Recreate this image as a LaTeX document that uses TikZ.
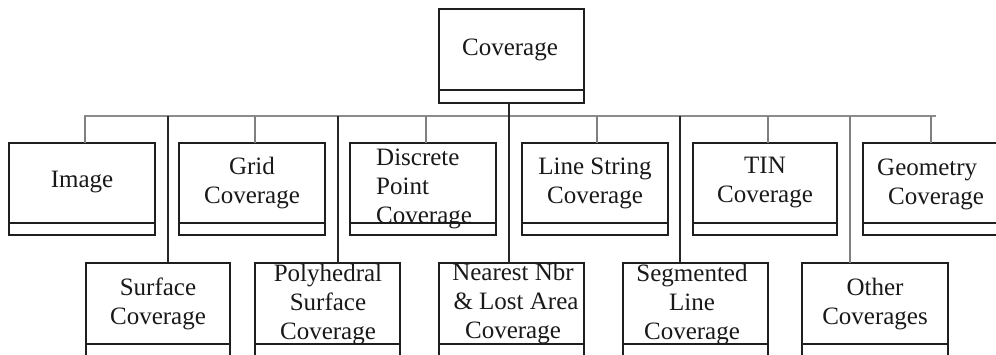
\documentclass[tikz,border=0pt]{standalone}
\usepackage{fontspec}
\setmainfont{Liberation Serif}
\begin{document}
\begin{tikzpicture}[x=1pt,y=-1pt,
  box/.style={draw=black!88,line width=1.2pt,minimum width=146pt,inner sep=0pt,outer sep=0pt,anchor=north west},
  topbox/.style={box,minimum height=92pt},
  botbox/.style={box,minimum height=93pt},
  divider/.style={draw=black!88,line width=1.2pt},
  lbl/.style={font=\fontsize{25}{29}\selectfont,align=center,inner sep=0pt,text=black!90},
  bus/.style={draw=black!45,line width=1.2pt},
  stub/.style={draw=black!50,line width=1.2pt},
  link/.style={draw=black!85,line width=1.2pt},
  graylink/.style={draw=black!50,line width=1.2pt}]
\useasboundingbox (0,0) rectangle (996,354);
\clip (0,0) rectangle (996,354);

% boxes
\node[box,minimum width=145pt,minimum height=94pt] (cov) at (439,9) {};
\node[topbox] (img) at (9,143) {};
\node[topbox] (grid) at (179,143) {};
\node[topbox] (disc) at (350,143) {};
\node[topbox] (line) at (522,143) {};
\node[topbox,minimum width=144pt] (tin) at (693,143) {};
\node[topbox] (geo) at (863,143) {};
\node[botbox,minimum width=144pt] (surf) at (86,263) {};
\node[botbox,minimum width=145pt] (poly) at (255,263) {};
\node[botbox,minimum width=145pt] (near) at (439,263) {};
\node[botbox,minimum width=145pt] (seg) at (623,263) {};
\node[botbox] (oth) at (802,263) {};

% dividers
\draw[divider] ([yshift=13pt]cov.south west) -- ([yshift=13pt]cov.south east);
\foreach \b in {img,grid,disc,line,tin,geo,surf,poly,near,seg,oth}
  \draw[divider] ([yshift=12pt]\b.south west) -- ([yshift=12pt]\b.south east);

% labels
\node[lbl] (tcov) at (510,50) {Coverage};
\node[lbl] (timg) at (82,182) {Image};
\node[lbl] (tgrid) at (252,183) {Grid\\Coverage};
\node[lbl,anchor=west,align=left] (tdisc) at (376,189) {Discrete\\Point\\Coverage};
\node[lbl] (tline) at (595,183) {Line String\\Coverage};
\node[lbl] (ttin) at (765,183) {TIN\\Coverage};
\node[lbl,anchor=west,align=left] (tgeo) at (877,184) {Geometry\\\hspace*{11pt}Coverage};
\node[lbl] (tsurf) at (158,304) {Surface\\Coverage};
\node[lbl] (tpoly) at (328,305) {Polyhedral\\Surface\\Coverage};
\node[lbl] (tnear) at (513,304) {Nearest Nbr\\\hspace*{6pt}\& Lost Area\\Coverage};
\node[lbl] (tseg) at (692,305) {Segmented\\Line\\Coverage};
\node[lbl] (toth) at (875,304) {Other\\Coverages};

% bus
\coordinate (busL) at (84,116);
\coordinate (busR) at (936,116);
\draw[bus] (busL) -- (busR);

% stubs to top row
\draw[stub] ([xshift=3pt]img.north) -- ([xshift=3pt]img.north |- busL);
\draw[stub] ([xshift=3pt]grid.north) -- ([xshift=3pt]grid.north |- busL);
\draw[stub] ([xshift=3pt]disc.north) -- ([xshift=3pt]disc.north |- busL);
\draw[stub] ([xshift=2pt]line.north) -- ([xshift=2pt]line.north |- busL);
\draw[stub] ([xshift=3pt]tin.north) -- ([xshift=3pt]tin.north |- busL);
\draw[stub] ([xshift=-5pt]geo.north) -- ([xshift=-5pt]geo.north |- busL);

% links to bottom row
\coordinate (b1) at (168,116);
\coordinate (b2) at (338,116);
\coordinate (b4) at (680,116);
\coordinate (b5) at (850,116);
\draw[link] (b1) -- (b1 |- surf.north);
\draw[link] (b2) -- (b2 |- poly.north);
\draw[link] (b4) -- (b4 |- seg.north);
\draw[graylink] (b5) -- (b5 |- oth.north);
\draw[link] ([xshift=-2.5pt]cov.south) -- ([xshift=-2.5pt]cov.south |- near.north);
\end{tikzpicture}
\end{document}
